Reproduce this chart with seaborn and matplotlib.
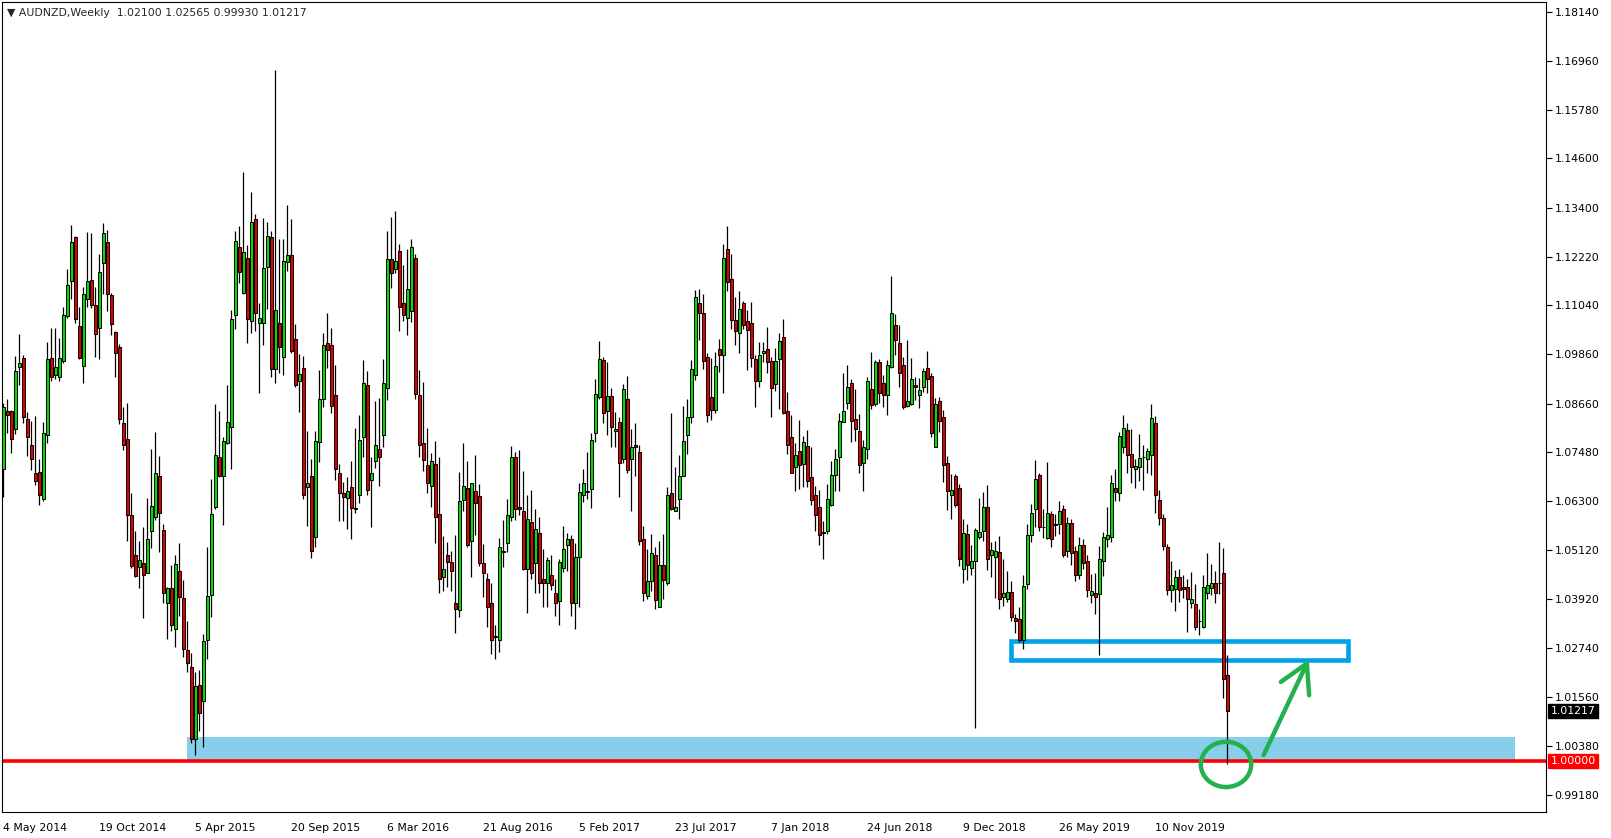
import numpy as np
import pandas as pd
import seaborn as sns
import matplotlib.pyplot as plt
from matplotlib.patches import Rectangle, Ellipse

sns.set_style('white')
plt.rcParams['font.family'] = ['DejaVu Sans']

# weekly AUDNZD candles (4 May 2014 .. 15 Mar 2020)
symbol = 'AUDNZD,Weekly'
first_week = '2014-05-04'

open_ = [
    1.0707, 1.0848, 1.0848, 1.0806, 1.0954, 1.0978, 1.0830, 1.0767, 1.0698, 1.0701,
    1.0635, 1.0791, 1.0977, 1.0936, 1.0931, 1.0969, 1.1079, 1.1163, 1.1269, 1.1054,
    1.0957, 1.1120, 1.1166, 1.1106, 1.1049, 1.1208, 1.1258, 1.1130, 1.1040, 1.1003,
    1.0819, 1.0780, 1.0596, 1.0499, 1.0470, 1.0481, 1.0457, 1.0559, 1.0592, 1.0691,
    1.0560, 1.0383, 1.0420, 1.0321, 1.0460, 1.0396, 1.0270, 1.0228, 1.0053, 1.0186,
    1.0145, 1.0295, 1.0402, 1.0615, 1.0736, 1.0690, 1.0770, 1.0809, 1.1082, 1.1246,
    1.1135, 1.1219, 1.1066, 1.1313, 1.1061, 1.1062, 1.1198, 1.1269, 1.0951, 1.1061,
    1.0980, 1.1209, 1.1226, 1.1022, 1.0920, 1.0953, 1.0665, 1.0691, 1.0543, 1.0773,
    1.0877, 1.1014, 1.1008, 1.0888, 1.0699, 1.0651, 1.0638, 1.0664, 1.0614, 1.0646,
    1.0785, 1.0911, 1.0681, 1.0728, 1.0756, 1.0790, 1.0904, 1.1217, 1.1192, 1.1235,
    1.1111, 1.1074, 1.1091, 1.1219, 1.0886, 1.0770, 1.0717, 1.0668, 1.0720, 1.0599,
    1.0447, 1.0500, 1.0483, 1.0383, 1.0366, 1.0633, 1.0662, 1.0533, 1.0655, 1.0643,
    1.0480, 1.0442, 1.0383, 1.0300, 1.0295, 1.0509, 1.0528, 1.0591, 1.0738, 1.0615,
    1.0606, 1.0465, 1.0580, 1.0480, 1.0554, 1.0441, 1.0433, 1.0452, 1.0407, 1.0389,
    1.0468, 1.0525, 1.0538, 1.0383, 1.0495, 1.0646, 1.0652, 1.0660, 1.0796, 1.0882,
    1.0972, 1.0849, 1.0885, 1.0799, 1.0823, 1.0733, 1.0878, 1.0731, 1.0767, 1.0748,
    1.0538, 1.0400, 1.0437, 1.0500, 1.0374, 1.0476, 1.0433, 1.0651, 1.0607, 1.0635,
    1.0690, 1.0790, 1.0835, 1.0936, 1.1109, 1.1087, 1.0980, 1.0883, 1.0851, 1.0998,
    1.0983, 1.1240, 1.1167, 1.1069, 1.1037, 1.1109, 1.1066, 1.1061, 1.0974, 1.0920,
    1.0988, 1.0998, 1.0970, 1.0914, 1.0975, 1.1027, 1.0849, 1.0785, 1.0712, 1.0751,
    1.0720, 1.0764, 1.0688, 1.0644, 1.0617, 1.0552, 1.0557, 1.0621, 1.0693, 1.0736,
    1.0823, 1.0869, 1.0917, 1.0830, 1.0801, 1.0722, 1.0756, 1.0902, 1.0865, 1.0966,
    1.0916, 1.0888, 1.0956, 1.1057, 1.1014, 1.0959, 1.0861, 1.0865, 1.0912, 1.0886,
    1.0907, 1.0953, 1.0933, 1.0762, 1.0872, 1.0833, 1.0723, 1.0646, 1.0691, 1.0662,
    1.0465, 1.0551, 1.0467, 1.0486, 1.0543, 1.0559, 1.0615, 1.0500, 1.0494, 1.0507,
    1.0399, 1.0393, 1.0410, 1.0347, 1.0344, 1.0294, 1.0430, 1.0547, 1.0612, 1.0693,
    1.0567, 1.0541, 1.0599, 1.0575, 1.0575, 1.0612, 1.0509, 1.0576, 1.0510, 1.0451,
    1.0525, 1.0486, 1.0404, 1.0407, 1.0405, 1.0484, 1.0538, 1.0544, 1.0662, 1.0651,
    1.0762, 1.0802, 1.0744, 1.0707, 1.0712, 1.0738, 1.0733, 1.0743, 1.0819, 1.0633,
    1.0589, 1.0518, 1.0415, 1.0418, 1.0446, 1.0421, 1.0421, 1.0384, 1.0381, 1.0340,
    1.0326, 1.0407, 1.0420, 1.0431, 1.0433, 1.0457, 1.02100,
]

high = [
    1.0869, 1.0877, 1.0851, 1.0982, 1.1035, 1.0983, 1.0846, 1.0825, 1.0836, 1.0733,
    1.0823, 1.1016, 1.1049, 1.1049, 1.1025, 1.1100, 1.1192, 1.1298, 1.1272, 1.1100,
    1.1148, 1.1282, 1.1280, 1.1148, 1.1229, 1.1303, 1.1287, 1.1135, 1.1043, 1.1011,
    1.0857, 1.0867, 1.0649, 1.0557, 1.0533, 1.0568, 1.0638, 1.0756, 1.0798, 1.0739,
    1.0575, 1.0423, 1.0475, 1.0499, 1.0528, 1.0439, 1.0339, 1.0263, 1.0216, 1.0221,
    1.0308, 1.0518, 1.0684, 1.0865, 1.0849, 1.0785, 1.0911, 1.1093, 1.1284, 1.1296,
    1.1427, 1.1250, 1.1379, 1.1326, 1.1109, 1.1316, 1.1305, 1.1285, 1.1674, 1.1266,
    1.1264, 1.1348, 1.1314, 1.1059, 1.0986, 1.0982, 1.0801, 1.0733, 1.0799, 1.0948,
    1.1037, 1.1085, 1.1049, 1.0959, 1.0720, 1.0676, 1.0688, 1.0727, 1.0807, 1.0838,
    1.0972, 1.0945, 1.0736, 1.0872, 1.0880, 1.0975, 1.1284, 1.1318, 1.1332, 1.1253,
    1.1201, 1.1240, 1.1264, 1.1229, 1.0948, 1.0919, 1.0807, 1.0746, 1.0776, 1.0738,
    1.0546, 1.0531, 1.0510, 1.0549, 1.0701, 1.0772, 1.0727, 1.0675, 1.0741, 1.0672,
    1.0526, 1.0455, 1.0433, 1.0329, 1.0541, 1.0584, 1.0636, 1.0764, 1.0749, 1.0754,
    1.0702, 1.0644, 1.0657, 1.0610, 1.0591, 1.0515, 1.0494, 1.0500, 1.0441, 1.0489,
    1.0570, 1.0554, 1.0547, 1.0529, 1.0673, 1.0709, 1.0748, 1.0794, 1.0925, 1.1019,
    1.0980, 1.0966, 1.0904, 1.0846, 1.0833, 1.0914, 1.0933, 1.0804, 1.0819, 1.0765,
    1.0570, 1.0514, 1.0551, 1.0518, 1.0533, 1.0551, 1.0664, 1.0843, 1.0712, 1.0743,
    1.0861, 1.0877, 1.0972, 1.1141, 1.1143, 1.1133, 1.0988, 1.0977, 1.0991, 1.1022,
    1.1253, 1.1296, 1.1229, 1.1124, 1.1138, 1.1116, 1.1093, 1.1112, 1.0983, 1.1016,
    1.1016, 1.1051, 1.0980, 1.1001, 1.1038, 1.1071, 1.0894, 1.0838, 1.0770, 1.0827,
    1.0788, 1.0802, 1.0761, 1.0668, 1.0657, 1.0581, 1.0672, 1.0727, 1.0756, 1.0843,
    1.0940, 1.0961, 1.0925, 1.0901, 1.0841, 1.0778, 1.0930, 1.0991, 1.0972, 1.0974,
    1.0935, 1.0972, 1.1175, 1.1083, 1.1056, 1.0980, 1.1020, 1.0978, 1.0931, 1.0928,
    1.0953, 1.0993, 1.0941, 1.0880, 1.0883, 1.0851, 1.0739, 1.0696, 1.0696, 1.0672,
    1.0586, 1.0575, 1.0525, 1.0565, 1.0638, 1.0652, 1.0670, 1.0531, 1.0533, 1.0546,
    1.0489, 1.0460, 1.0436, 1.0358, 1.0373, 1.0451, 1.0575, 1.0623, 1.0730, 1.0699,
    1.0610, 1.0725, 1.0607, 1.0599, 1.0630, 1.0621, 1.0592, 1.0586, 1.0521, 1.0543,
    1.0539, 1.0499, 1.0454, 1.0455, 1.0521, 1.0555, 1.0615, 1.0694, 1.0707, 1.0798,
    1.0839, 1.0819, 1.0805, 1.0733, 1.0793, 1.0765, 1.0759, 1.0865, 1.0836, 1.0657,
    1.0599, 1.0526, 1.0486, 1.0463, 1.0465, 1.0451, 1.0442, 1.0458, 1.0430, 1.0370,
    1.0452, 1.0505, 1.0478, 1.0462, 1.0531, 1.0517, 1.02565,
]

low = [
    1.0641, 1.0794, 1.0746, 1.0793, 1.0912, 1.0820, 1.0739, 1.0706, 1.0670, 1.0621,
    1.0631, 1.0772, 1.0920, 1.0925, 1.0920, 1.0964, 1.1074, 1.1119, 1.1062, 1.0974,
    1.0917, 1.1100, 1.1098, 1.0980, 1.0975, 1.1133, 1.1091, 1.1032, 1.0931, 1.0817,
    1.0754, 1.0534, 1.0468, 1.0446, 1.0420, 1.0347, 1.0456, 1.0517, 1.0584, 1.0507,
    1.0384, 1.0297, 1.0316, 1.0278, 1.0352, 1.0253, 1.0216, 1.0045, 1.0016, 1.0074,
    1.0034, 1.0247, 1.0350, 1.0612, 1.0688, 1.0573, 1.0768, 1.0709, 1.1046, 1.1159,
    1.1132, 1.1014, 1.1038, 1.1043, 1.0891, 1.1009, 1.1095, 1.0930, 1.0917, 1.0940,
    1.0935, 1.1187, 1.0990, 1.0907, 1.0846, 1.0635, 1.0570, 1.0492, 1.0518, 1.0725,
    1.0857, 1.0953, 1.0843, 1.0681, 1.0581, 1.0581, 1.0563, 1.0538, 1.0601, 1.0625,
    1.0736, 1.0644, 1.0568, 1.0710, 1.0668, 1.0761, 1.0875, 1.1146, 1.1183, 1.1043,
    1.1066, 1.1033, 1.1064, 1.0878, 1.0736, 1.0702, 1.0651, 1.0617, 1.0528, 1.0407,
    1.0413, 1.0423, 1.0412, 1.0310, 1.0349, 1.0607, 1.0518, 1.0446, 1.0549, 1.0473,
    1.0399, 1.0326, 1.0260, 1.0247, 1.0265, 1.0470, 1.0507, 1.0583, 1.0584, 1.0596,
    1.0463, 1.0360, 1.0442, 1.0408, 1.0408, 1.0374, 1.0373, 1.0415, 1.0352, 1.0329,
    1.0458, 1.0462, 1.0352, 1.0321, 1.0374, 1.0628, 1.0636, 1.0613, 1.0773, 1.0878,
    1.0820, 1.0791, 1.0761, 1.0762, 1.0639, 1.0723, 1.0699, 1.0607, 1.0690, 1.0523,
    1.0388, 1.0394, 1.0412, 1.0368, 1.0373, 1.0394, 1.0426, 1.0609, 1.0606, 1.0588,
    1.0690, 1.0744, 1.0820, 1.0923, 1.1020, 1.0951, 1.0822, 1.0827, 1.0844, 1.0943,
    1.0891, 1.1140, 1.1046, 1.1008, 1.0988, 1.1046, 1.0948, 1.0956, 1.0857, 1.0907,
    1.0967, 1.0941, 1.0835, 1.0896, 1.0854, 1.0841, 1.0744, 1.0698, 1.0654, 1.0659,
    1.0664, 1.0665, 1.0621, 1.0559, 1.0523, 1.0489, 1.0551, 1.0618, 1.0655, 1.0655,
    1.0822, 1.0854, 1.0773, 1.0776, 1.0699, 1.0655, 1.0731, 1.0853, 1.0860, 1.0867,
    1.0859, 1.0839, 1.0952, 1.0983, 1.0906, 1.0854, 1.0857, 1.0862, 1.0875, 1.0856,
    1.0894, 1.0891, 1.0785, 1.0762, 1.0798, 1.0676, 1.0609, 1.0588, 1.0617, 1.0473,
    1.0431, 1.0439, 1.0452, 1.0081, 1.0539, 1.0534, 1.0463, 1.0447, 1.0396, 1.0368,
    1.0376, 1.0386, 1.0341, 1.0310, 1.0289, 1.0273, 1.0418, 1.0530, 1.0568, 1.0557,
    1.0541, 1.0539, 1.0520, 1.0546, 1.0551, 1.0495, 1.0495, 1.0476, 1.0436, 1.0441,
    1.0465, 1.0397, 1.0384, 1.0358, 1.0257, 1.0450, 1.0520, 1.0531, 1.0630, 1.0630,
    1.0746, 1.0699, 1.0673, 1.0662, 1.0680, 1.0657, 1.0698, 1.0694, 1.0601, 1.0572,
    1.0512, 1.0404, 1.0386, 1.0363, 1.0386, 1.0396, 1.0313, 1.0371, 1.0318, 1.0305,
    1.0323, 1.0394, 1.0404, 1.0383, 1.0405, 1.0153, 0.99930,
]

close = [
    1.0857, 1.0838, 1.0781, 1.0945, 1.0964, 1.0833, 1.0786, 1.0731, 1.0680, 1.0646,
    1.0794, 1.0974, 1.0930, 1.0954, 1.0978, 1.1080, 1.1153, 1.1258, 1.1071, 1.0978,
    1.1133, 1.1163, 1.1106, 1.1035, 1.1185, 1.1279, 1.1133, 1.1059, 1.0990, 1.0830,
    1.0767, 1.0596, 1.0473, 1.0449, 1.0488, 1.0452, 1.0539, 1.0618, 1.0698, 1.0601,
    1.0408, 1.0420, 1.0329, 1.0478, 1.0399, 1.0271, 1.0237, 1.0053, 1.0182, 1.0116,
    1.0291, 1.0400, 1.0599, 1.0741, 1.0691, 1.0775, 1.0823, 1.1071, 1.1259, 1.1185,
    1.1234, 1.1071, 1.1306, 1.1085, 1.1074, 1.1195, 1.1272, 1.0951, 1.1093, 1.1003,
    1.1211, 1.1226, 1.0994, 1.0912, 1.0938, 1.0646, 1.0673, 1.0510, 1.0775, 1.0878,
    1.1008, 1.0996, 1.0861, 1.0707, 1.0649, 1.0641, 1.0655, 1.0613, 1.0611, 1.0778,
    1.0916, 1.0657, 1.0698, 1.0767, 1.0736, 1.0916, 1.1217, 1.1182, 1.1211, 1.1100,
    1.1080, 1.1145, 1.1245, 1.0890, 1.0767, 1.0730, 1.0673, 1.0727, 1.0591, 1.0442,
    1.0465, 1.0483, 1.0460, 1.0368, 1.0631, 1.0668, 1.0525, 1.0675, 1.0625, 1.0480,
    1.0455, 1.0373, 1.0295, 1.0304, 1.0520, 1.0507, 1.0596, 1.0736, 1.0610, 1.0612,
    1.0465, 1.0588, 1.0455, 1.0563, 1.0433, 1.0433, 1.0488, 1.0428, 1.0383, 1.0483,
    1.0515, 1.0539, 1.0384, 1.0495, 1.0652, 1.0673, 1.0654, 1.0778, 1.0890, 1.0974,
    1.0843, 1.0885, 1.0810, 1.0804, 1.0723, 1.0901, 1.0706, 1.0762, 1.0762, 1.0534,
    1.0408, 1.0436, 1.0504, 1.0391, 1.0476, 1.0439, 1.0646, 1.0610, 1.0615, 1.0690,
    1.0775, 1.0835, 1.0951, 1.1124, 1.1087, 1.0970, 1.0839, 1.0851, 1.0957, 1.0983,
    1.1219, 1.1161, 1.1069, 1.1041, 1.1096, 1.1056, 1.1045, 1.0978, 1.0920, 1.0983,
    1.0993, 1.0967, 1.0904, 1.0970, 1.1017, 1.0844, 1.0765, 1.0698, 1.0741, 1.0717,
    1.0773, 1.0680, 1.0633, 1.0596, 1.0547, 1.0555, 1.0635, 1.0694, 1.0731, 1.0825,
    1.0849, 1.0907, 1.0825, 1.0804, 1.0717, 1.0762, 1.0922, 1.0862, 1.0966, 1.0891,
    1.0888, 1.0961, 1.1087, 1.1020, 1.0941, 1.0857, 1.0872, 1.0925, 1.0906, 1.0899,
    1.0945, 1.0927, 1.0796, 1.0865, 1.0825, 1.0718, 1.0654, 1.0657, 1.0621, 1.0491,
    1.0552, 1.0476, 1.0484, 1.0560, 1.0555, 1.0615, 1.0491, 1.0512, 1.0509, 1.0394,
    1.0407, 1.0410, 1.0349, 1.0341, 1.0294, 1.0425, 1.0549, 1.0601, 1.0684, 1.0567,
    1.0567, 1.0601, 1.0538, 1.0572, 1.0606, 1.0500, 1.0578, 1.0505, 1.0452, 1.0523,
    1.0481, 1.0415, 1.0413, 1.0397, 1.0489, 1.0544, 1.0549, 1.0673, 1.0652, 1.0788,
    1.0807, 1.0741, 1.0714, 1.0715, 1.0735, 1.0737, 1.0751, 1.0832, 1.0644, 1.0589,
    1.0521, 1.0415, 1.0426, 1.0446, 1.0415, 1.0418, 1.0394, 1.0392, 1.0326, 1.0339,
    1.0421, 1.0428, 1.0431, 1.0407, 1.0431, 1.0199, 1.01217,
]

date_labels = ['4 May 2014', '19 Oct 2014', '5 Apr 2015', '20 Sep 2015', '6 Mar 2016',
               '21 Aug 2016', '5 Feb 2017', '23 Jul 2017', '7 Jan 2018', '24 Jun 2018',
               '9 Dec 2018', '26 May 2019', '10 Nov 2019']
price_ticks = [1.18140, 1.16960, 1.15780, 1.14600, 1.13400, 1.12220, 1.11040, 1.09860,
               1.08660, 1.07480, 1.06300, 1.05120, 1.03920, 1.02740, 1.01560, 1.00380, 0.99180]

parity_level = 1.00000
support_zone = [1.0000, 1.0060]
target_box = [1.0245, 1.0291]

assert len(open_) == len(high) == len(low) == len(close)

df = pd.DataFrame({'open': open_, 'high': high, 'low': low, 'close': close})
df['date'] = pd.date_range(first_week, periods=len(df), freq='W-SUN')
df['x'] = np.arange(len(df))
df['bull'] = df['close'] >= df['open']

fig = plt.figure(figsize=(16.11, 8.38), dpi=100)
ax = fig.add_axes([0.00155, 0.0310, 0.9581, 0.9666])

# support zone and parity line
ax.add_patch(Rectangle((45.9, support_zone[0]), 378.0 - 45.9, support_zone[1] - support_zone[0],
                       facecolor='#87CEEB', edgecolor='none', zorder=1))
ax.axhline(parity_level, color='#FF0000', lw=2.6, zorder=2)
ax.add_patch(Rectangle((251.9, target_box[0]), 336.2 - 251.9, target_box[1] - target_box[0],
                       fill=False, edgecolor='#00A2E8', lw=3.3, zorder=2))

# candles
ax.vlines(df['x'], df['low'], df['high'], color='black', lw=0.9, zorder=3)
body_lo = df[['open', 'close']].min(axis=1)
body_h = (df['close'] - df['open']).abs()
colors = np.where(df['bull'], '#00DD00', '#E00000')
ax.bar(df['x'], body_h, bottom=body_lo, width=0.8, color=colors,
       edgecolor='black', linewidth=0.7, zorder=4)

# hand drawn marks
ax.add_patch(Ellipse((305.7, 0.99925), 12.6, 0.01095, fill=False,
                     edgecolor='#22B14C', lw=3.2, zorder=6))
ax.annotate('', xy=(326.4, 1.0247), xytext=(315.1, 1.0015),
            arrowprops=dict(arrowstyle='->,head_length=0.8,head_width=0.45',
                            color='#22B14C', lw=3.2, shrinkA=0, shrinkB=0,
                            mutation_scale=25), zorder=6)

ax.set_xlim(-0.2, 385.7)
ax.set_ylim(0.98772, 1.18390)

# axes like the terminal
ax.yaxis.tick_right()
ax.set_yticks(price_ticks)
ax.set_yticklabels([f'{p:.5f}' for p in price_ticks])
tick_pos = df.loc[df['date'].isin(pd.to_datetime(date_labels, format='%d %b %Y')), 'x']
ax.set_xticks(tick_pos)
ax.set_xticklabels(date_labels, ha='left')
ax.tick_params(axis='both', direction='out', length=4, width=0.8, labelsize=7.8,
               colors='black', pad=2)
ax.tick_params(axis='x', pad=4)
for s in ax.spines.values():
    s.set_color('black')
    s.set_linewidth(0.8)

last = df.iloc[-1]
header = f"\u25BC {symbol}  {last['open']:.5f} {last['high']:.5f} {last['low']:.5f} {last['close']:.5f}"
ax.text(0.003, 0.993, header, transform=ax.transAxes, fontsize=7.8, va='top', ha='left')

ax.text(1.003, last['close'], f"{last['close']:.5f}", transform=ax.get_yaxis_transform(),
        fontsize=7.8, color='white', va='center', ha='left',
        bbox=dict(boxstyle='square,pad=0.2', fc='black', ec='black'), clip_on=False)
ax.text(1.003, parity_level, f"{parity_level:.5f}", transform=ax.get_yaxis_transform(),
        fontsize=7.8, color='white', va='center', ha='left',
        bbox=dict(boxstyle='square,pad=0.2', fc='#FF0000', ec='#FF0000'), clip_on=False)

fig.savefig('out.png', dpi=100)
